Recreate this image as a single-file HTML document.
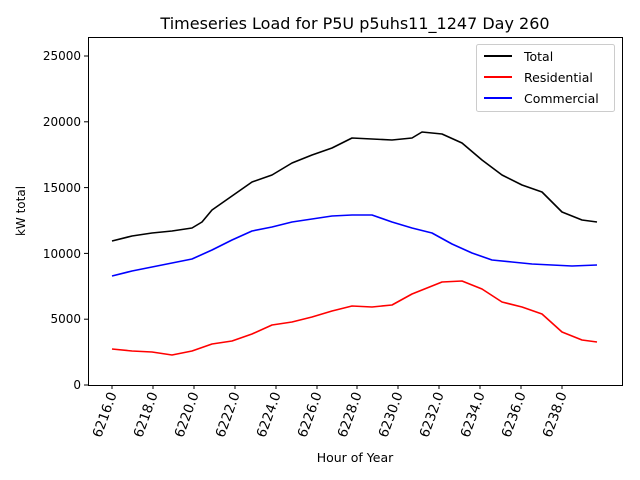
<!DOCTYPE html>
<html><head><meta charset="utf-8"><style>body{margin:0;background:#fff}svg{display:block;font-family:"DejaVu Sans","Liberation Sans",sans-serif}</style></head>
<body>
<svg width="640" height="480" viewBox="0 0 640 480" xmlns="http://www.w3.org/2000/svg">
<rect width="640" height="480" fill="#fff"/>
<text x="355" y="29" font-size="16" text-anchor="middle">Timeseries Load for P5U p5uhs11_1247  Day 260</text>
<g stroke="#000" stroke-width="1" fill="none">
<rect x="88.5" y="37.5" width="534" height="348"/>
</g>
<g font-size="12" text-anchor="end">
<g stroke="#000"><line x1="84" x2="88" y1="385" y2="385"/><line x1="84" x2="88" y1="319.2" y2="319.2"/><line x1="84" x2="88" y1="253.4" y2="253.4"/><line x1="84" x2="88" y1="187.6" y2="187.6"/><line x1="84" x2="88" y1="121.8" y2="121.8"/><line x1="84" x2="88" y1="56" y2="56"/></g>
<text x="81" y="389">0</text><text x="81" y="323">5000</text><text x="81" y="258">10000</text><text x="81" y="192">15000</text><text x="81" y="126">20000</text><text x="81" y="60">25000</text>
</g>
<text transform="translate(25,211) rotate(-90)" font-size="12" text-anchor="middle">kW total</text>
<g stroke="#000"><line x1="112" x2="112" y1="385" y2="389"/><line x1="153" x2="153" y1="385" y2="389"/><line x1="194" x2="194" y1="385" y2="389"/><line x1="235" x2="235" y1="385" y2="389"/><line x1="276" x2="276" y1="385" y2="389"/><line x1="317" x2="317" y1="385" y2="389"/><line x1="357" x2="357" y1="385" y2="389"/><line x1="398" x2="398" y1="385" y2="389"/><line x1="439" x2="439" y1="385" y2="389"/><line x1="480" x2="480" y1="385" y2="389"/><line x1="521" x2="521" y1="385" y2="389"/><line x1="562" x2="562" y1="385" y2="389"/></g>
<g font-size="13.5" text-anchor="end">
<text transform="translate(117,394) rotate(-70)">6216.0</text>
<text transform="translate(158,394) rotate(-70)">6218.0</text>
<text transform="translate(199,394) rotate(-70)">6220.0</text>
<text transform="translate(240,394) rotate(-70)">6222.0</text>
<text transform="translate(281,394) rotate(-70)">6224.0</text>
<text transform="translate(322,394) rotate(-70)">6226.0</text>
<text transform="translate(362,394) rotate(-70)">6228.0</text>
<text transform="translate(403,394) rotate(-70)">6230.0</text>
<text transform="translate(444,394) rotate(-70)">6232.0</text>
<text transform="translate(485,394) rotate(-70)">6234.0</text>
<text transform="translate(526,394) rotate(-70)">6236.0</text>
<text transform="translate(567,394) rotate(-70)">6238.0</text>
</g>
<text x="355" y="462" font-size="12.5" text-anchor="middle">Hour of Year</text>
<g fill="none" stroke-width="1.6" stroke-linejoin="round">
<polyline stroke="#000" points="112,241 132,236 152,233 172,231 192,228 202,222 212,210 232,196 252,182 272,175 292,163 312,155 332,148 352,138 372,139 392,140 412,138 422,132 442,134 462,143 482,160 502,175 522,185 542,192 562,212 582,220 597,222"/>
<polyline stroke="#f00" points="112,349 132,351 152,352 172,355 192,351 212,344 232,341 252,334 272,325 292,322 312,317 332,311 352,306 372,307 392,305 412,294 422,290 442,282 462,281 482,289 502,302 522,307 542,314 562,332 582,340 597,342"/>
<polyline stroke="#00f" points="112,276 132,271 152,267 172,263 192,259 212,250 232,240 252,231 272,227 292,222 312,219 332,216 352,215 372,215 392,222 412,228 432,233 452,244 472,253 492,260 512,262 532,264 552,265 572,266 597,265"/>
</g>
<rect x="476.5" y="44.5" width="138" height="67" fill="#fff" stroke="#ccc" rx="2"/>
<g stroke-width="2"><line x1="484" x2="512" y1="56" y2="56" stroke="#000"/><line x1="484" x2="512" y1="77" y2="77" stroke="#f00"/><line x1="484" x2="512" y1="98" y2="98" stroke="#00f"/></g>
<g font-size="12.5"><text x="524" y="61">Total</text><text x="524" y="82">Residential</text><text x="524" y="103">Commercial</text></g>
</svg>
</body></html>
